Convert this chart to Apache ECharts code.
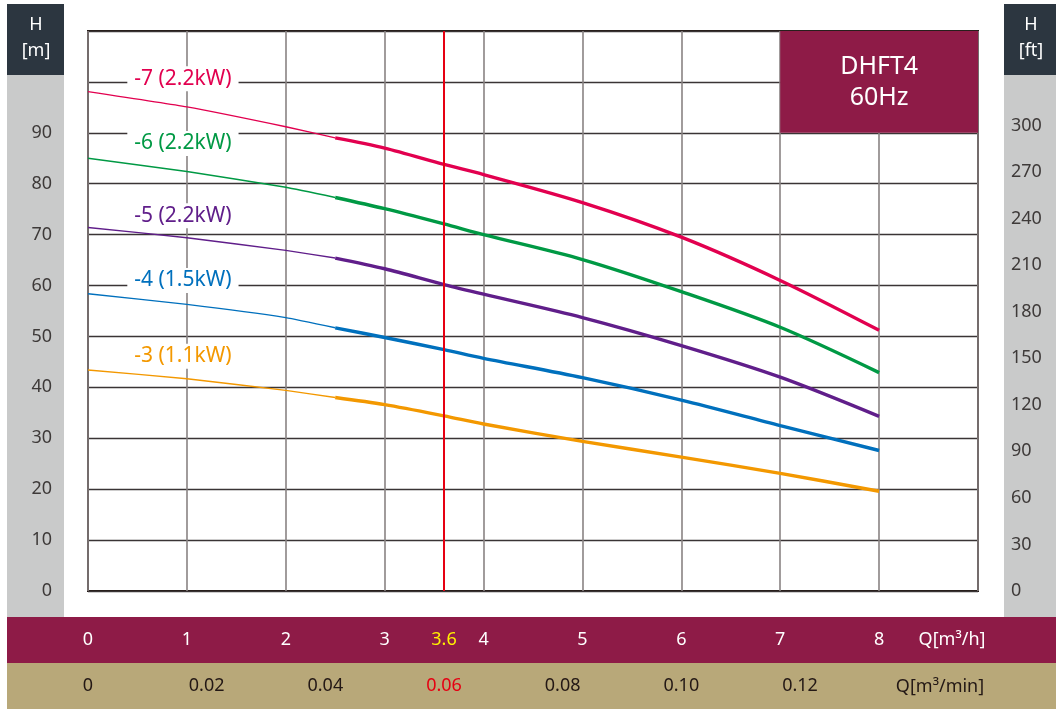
<!DOCTYPE html>
<html>
<head>
<meta charset="utf-8">
<script src="https://cdn.jsdelivr.net/npm/echarts@6/dist/echarts.min.js"></script>
<style>
html,body{margin:0;padding:0;background:#fff;}
#chart{width:1056px;height:709px;}
</style>
</head>
<body>
<div id="chart"></div>
<script>
// ---- data ----
const flowQ = [0, 1, 2, 2.5, 3, 3.6, 4, 5, 6, 7, 8];          // Q [m3/h]
const headM7 = [98.1, 95.1, 91.2, 89.0, 87.0, 83.8, 81.8, 76.3, 69.5, 61.0, 51.2];
const headM6 = [85.0, 82.4, 79.3, 77.3, 75.1, 72.1, 70.0, 65.1, 58.8, 51.8, 42.9];
const headM5 = [71.4, 69.4, 66.9, 65.4, 63.3, 60.2, 58.3, 53.7, 48.2, 42.0, 34.3];
const headM4 = [58.4, 56.3, 53.7, 51.7, 49.8, 47.4, 45.7, 41.9, 37.5, 32.5, 27.6];
const headM3 = [43.4, 41.7, 39.4, 38.0, 36.6, 34.4, 32.8, 29.4, 26.3, 23.1, 19.6];
const curveNames = ['-7 (2.2kW)', '-6 (2.2kW)', '-5 (2.2kW)', '-4 (1.5kW)', '-3 (1.1kW)'];
const curveLabelH = [100.6, 87.9, 73.7, 61.0, 46.1];
const curveLabelQ = 0.96;
const thickStartQ = 2.5;
const dutyQ = 3.6;
const qTicks = [0, 1, 2, 3, 3.6, 4, 5, 6, 7, 8];
const qMinTicks = [0, 0.02, 0.04, 0.06, 0.08, 0.10, 0.12];
const modelText = 'DHFT4\n60Hz';
const M_TO_FT = 3.28084;

const colors = ['#e2004f', '#009944', '#601e8a', '#0070bd', '#f39800'];
const heads = [headM7, headM6, headM5, headM4, headM3];

const FONT = 'Noto Sans';
const series = [];
heads.forEach((h, i) => {
  const thin = [], thick = [];
  flowQ.forEach((q, j) => {
    if (q <= thickStartQ) thin.push([q, h[j]]);
    if (q >= thickStartQ) thick.push([q, h[j]]);
  });
  series.push({
    type: 'line', data: thin, showSymbol: false, smooth: 0.15,
    lineStyle: {color: colors[i], width: 1.4}, z: 3, silent: true
  });
  series.push({
    type: 'line', data: thick, showSymbol: false, smooth: 0.3,
    lineStyle: {color: colors[i], width: 3.4}, z: 3, silent: true,
    markPoint: {
      symbol: 'rect', symbolSize: 0, silent: true,
      data: [{coord: [curveLabelQ, curveLabelH[i]]}],
      label: {
        show: true, position: 'inside', formatter: curveNames[i],
        color: colors[i], fontFamily: FONT, fontSize: 21,
        backgroundColor: '#fff', padding: [2, 7, 2, 7]
      }
    }
  });
});

// model box + duty line
series.push({
  type: 'line', data: [], z: 2, silent: true,
  markArea: {
    silent: true,
    itemStyle: {color: '#8e1b47'},
    label: {show: true, position: 'inside', formatter: modelText, color: '#fff',
            fontFamily: FONT, fontSize: 25, lineHeight: 31},
    data: [[{coord: [7, 110]}, {coord: [9, 90]}]]
  },
  markLine: {
    silent: true, symbol: 'none',
    lineStyle: {color: '#e60012', width: 2, type: 'solid'},
    label: {show: false},
    data: [{xAxis: dutyQ}]
  }
});

const chart = echarts.init(document.getElementById('chart'));
chart.setOption({
  backgroundColor: '#fff',
  animation: false,
  grid: {left: 88, top: 31, right: 78, bottom: 118, show: true,
         borderColor: '#231815', borderWidth: 2, backgroundColor: 'transparent'},
  xAxis: [{
    type: 'value', min: 0, max: 9, interval: 1,
    axisLine: {show: false}, axisTick: {show: false},
    splitLine: {show: true, lineStyle: {color: '#898383', width: 1.6}},
    axisLabel: {
      customValues: qTicks,
      margin: 40, fontFamily: FONT, fontSize: 18,
      color: (v) => (Math.abs(Number(v) - dutyQ) < 1e-6 ? '#fff100' : '#ffffff'),
      formatter: (v) => String(v)
    }
  }, {
    type: 'value', min: 0, max: 9 / 60, position: 'bottom',
    axisLine: {show: false}, axisTick: {show: false}, splitLine: {show: false},
    axisLabel: {
      customValues: qMinTicks,
      margin: 86, fontFamily: FONT, fontSize: 18,
      color: (v) => (Math.abs(Number(v) - 0.06) < 1e-6 ? '#e60012' : '#231815'),
      formatter: (v) => (Number(v) === 0 ? '0' : Number(v).toFixed(2))
    }
  }],
  yAxis: [{
    type: 'value', min: 0, max: 110, interval: 10,
    axisLine: {show: false}, axisTick: {show: false},
    splitLine: {show: true, lineStyle: {color: '#3a3435', width: 1.4}},
    axisLabel: {margin: 36, fontFamily: FONT, fontSize: 18, color: '#3e3a39',
                formatter: (v) => (v > 90 ? '' : String(v))}
  }, {
    type: 'value', min: 0, max: 110 * M_TO_FT, interval: 30, position: 'right',
    axisLine: {show: false}, axisTick: {show: false}, splitLine: {show: false},
    axisLabel: {margin: 33, fontFamily: FONT, fontSize: 18, color: '#3e3a39',
                formatter: (v) => (v > 300 ? '' : String(v))}
  }],
  graphic: [
    {type: 'rect', shape: {x: 7, y: 4, width: 57, height: 613}, style: {fill: '#c9caca'}, z: -10},
    {type: 'rect', shape: {x: 7, y: 4, width: 57, height: 71}, style: {fill: '#2c3640'}, z: -9},
    {type: 'rect', shape: {x: 1004, y: 4, width: 52, height: 613}, style: {fill: '#c9caca'}, z: -10},
    {type: 'rect', shape: {x: 1004, y: 4, width: 52, height: 71}, style: {fill: '#2c3640'}, z: -9},
    {type: 'rect', shape: {x: 7, y: 617, width: 1049, height: 46}, style: {fill: '#8e1b47'}, z: -10},
    {type: 'rect', shape: {x: 7, y: 663, width: 1049, height: 46}, style: {fill: '#b8a879'}, z: -10},
    {type: 'text', x: 36, y: 38, style: {text: 'H\n[m]', fill: '#fff', font: '18px "Noto Sans"',
       align: 'center', verticalAlign: 'middle', lineHeight: 26}},
    {type: 'text', x: 1031, y: 38, style: {text: 'H\n[ft]', fill: '#fff', font: '18px "Noto Sans"',
       align: 'center', verticalAlign: 'middle', lineHeight: 26}},
    {type: 'text', x: 952, y: 640, style: {text: 'Q[m³/h]', fill: '#fff', font: '18px "Noto Sans"',
       align: 'center', verticalAlign: 'middle'}},
    {type: 'text', x: 940, y: 687, style: {text: 'Q[m³/min]', fill: '#231815', font: '18px "Noto Sans"',
       align: 'center', verticalAlign: 'middle'}}
  ],
  series: series
});
</script>
</body>
</html>
